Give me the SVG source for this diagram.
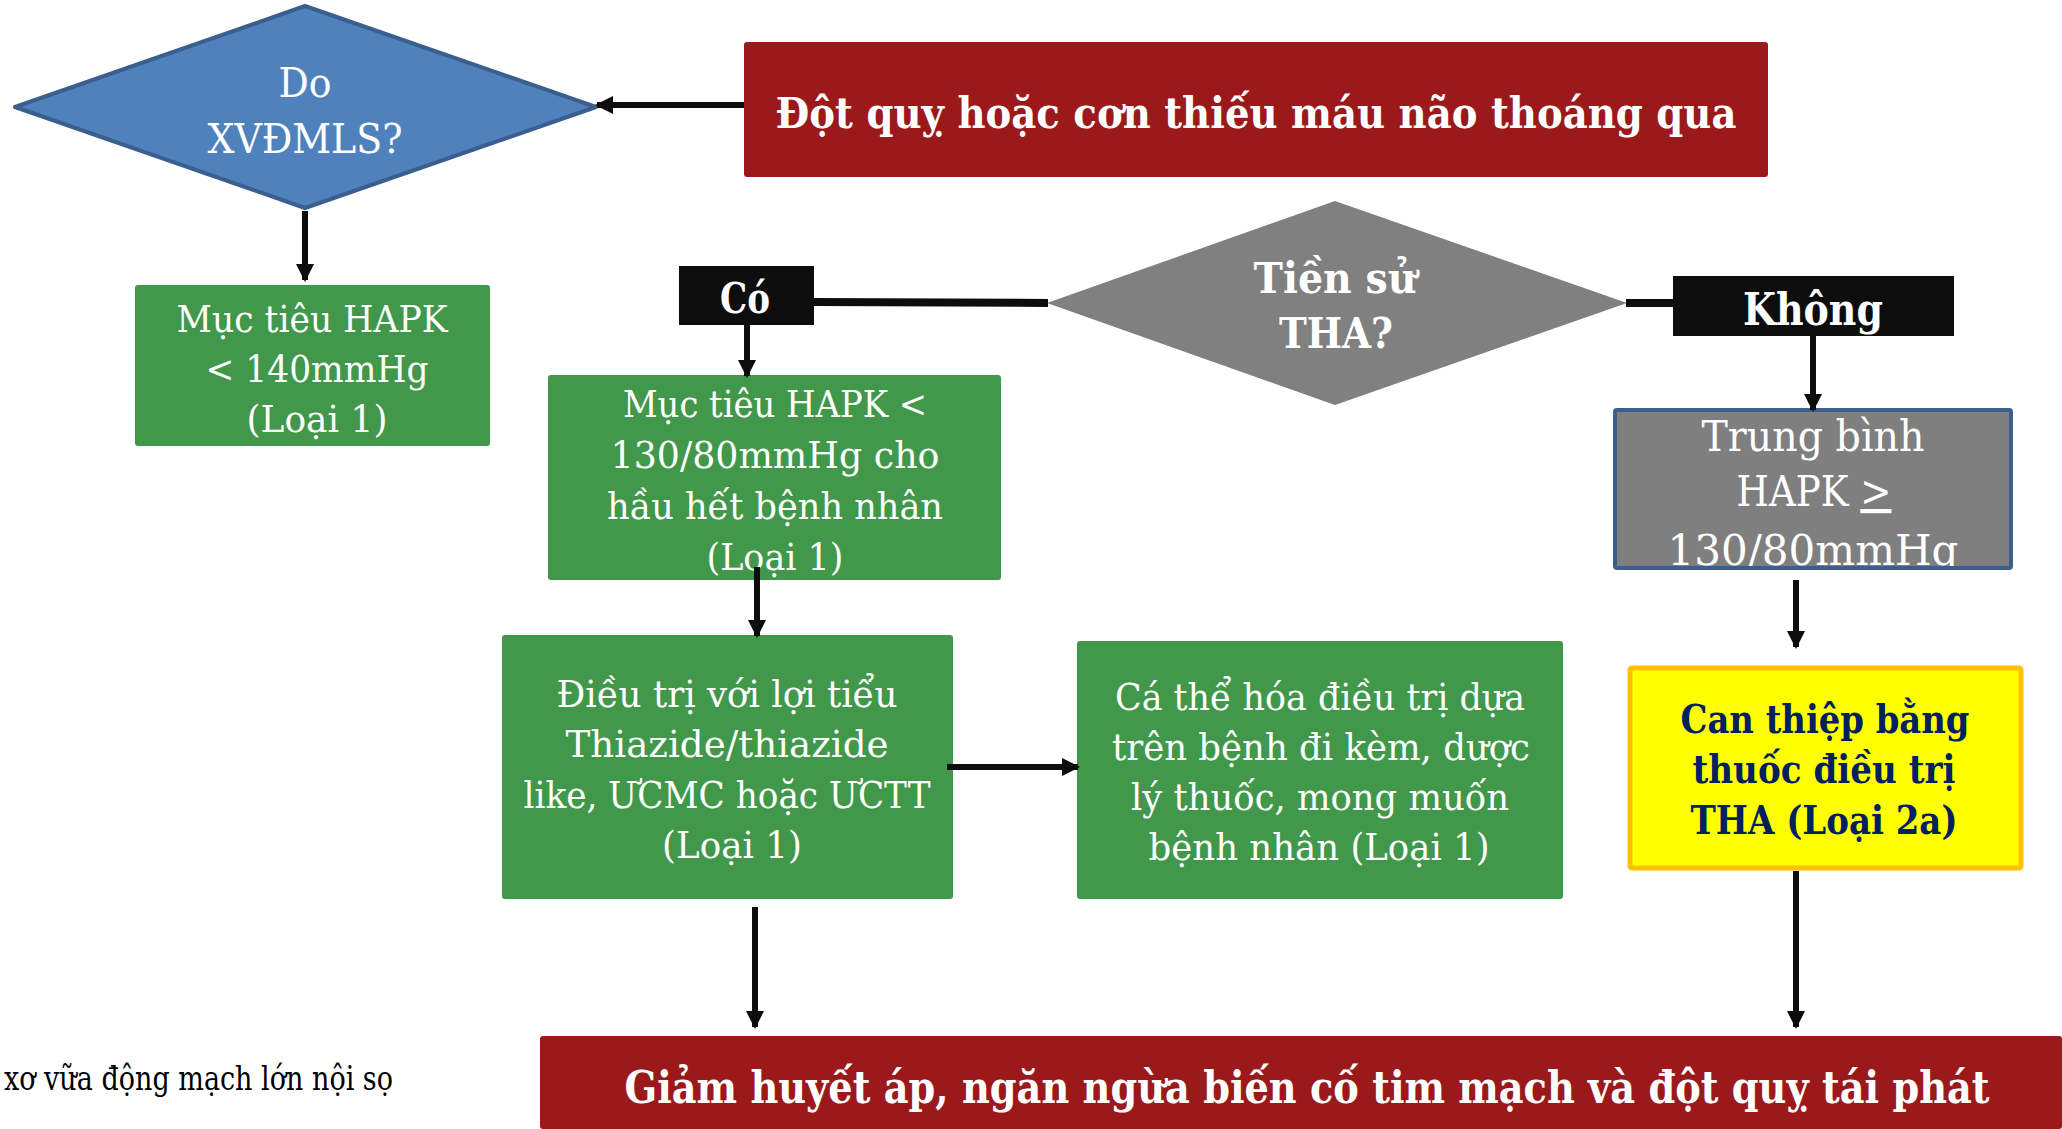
<svg xmlns="http://www.w3.org/2000/svg" width="2062" height="1129" viewBox="0 0 2062 1129">
<style>
  text { font-family: "DejaVu Serif", "Liberation Serif", serif; text-anchor: middle; }
  .w { fill: #ffffff; }
  .b { font-weight: bold; }
  .g37 { font-size: 37px; }
  .green { fill: #41984A; }
  .red { fill: #9B191A; }
  .blk { fill: #0D0D0D; }
  .ln { stroke: #0D0D0D; stroke-width: 6; fill: none; }
  .thick { stroke: #0D0D0D; stroke-width: 8; fill: none; }
  .arr { marker-end: url(#ah); }
</style>
<defs>
  <marker id="ah" markerUnits="userSpaceOnUse" markerWidth="18" markerHeight="18" refX="16" refY="9" orient="auto">
    <path d="M0,0 L18,9 L0,18 z" fill="#0D0D0D"/>
  </marker>
</defs>
<rect width="2062" height="1129" fill="#ffffff"/>

<g id="n-xvdmls">
  <polygon points="15,107 305,6 596,107 305,208" fill="#4F81BD" stroke="#3A5F8E" stroke-width="4" stroke-linejoin="round"/>
  <text class="w" x="305" y="97" font-size="41" textLength="53" lengthAdjust="spacingAndGlyphs">Do</text>
  <text class="w" x="305" y="153" font-size="41" textLength="195" lengthAdjust="spacingAndGlyphs">XVĐMLS?</text>
</g>

<g id="n-dotquy">
  <rect class="red" x="744" y="42" width="1024" height="135" rx="3"/>
  <text class="w b" x="1256" y="128" font-size="42" textLength="961" lengthAdjust="spacingAndGlyphs">Đột quỵ hoặc cơn thiếu máu não thoáng qua</text>
</g>

<g id="n-muctieu140">
  <rect class="green" x="135" y="285" width="355" height="161" rx="3"/>
  <text class="w g37" x="312" y="332" textLength="271" lengthAdjust="spacingAndGlyphs">Mục tiêu HAPK</text>
  <text class="w g37" x="317" y="382" textLength="223" lengthAdjust="spacingAndGlyphs">&lt; 140mmHg</text>
  <text class="w g37" x="317" y="432" textLength="141" lengthAdjust="spacingAndGlyphs">(Loại 1)</text>
</g>

<g id="n-co">
  <rect class="blk" x="679" y="266" width="135" height="59"/>
  <text class="w b" x="745" y="313" font-size="42" textLength="50" lengthAdjust="spacingAndGlyphs">Có</text>
</g>

<g id="n-tiensu">
  <polygon points="1047,303 1335,201 1627,303 1335,405" fill="#808080"/>
  <text class="w b" x="1335" y="293" font-size="42" textLength="163" lengthAdjust="spacingAndGlyphs">Tiền sử</text>
  <text class="w b" x="1336" y="348" font-size="42" textLength="114" lengthAdjust="spacingAndGlyphs">THA?</text>
</g>

<g id="n-khong">
  <rect class="blk" x="1673" y="276" width="281" height="60"/>
  <text class="w b" x="1813" y="325" font-size="44" textLength="140" lengthAdjust="spacingAndGlyphs">Không</text>
</g>

<g id="n-muctieu130">
  <rect class="green" x="548" y="375" width="453" height="205" rx="3"/>
  <text class="w g37" x="775" y="417" textLength="304" lengthAdjust="spacingAndGlyphs">Mục tiêu HAPK &lt;</text>
  <text class="w g37" x="775" y="468" textLength="329" lengthAdjust="spacingAndGlyphs">130/80mmHg cho</text>
  <text class="w g37" x="775" y="519" textLength="336" lengthAdjust="spacingAndGlyphs">hầu hết bệnh nhân</text>
  <text class="w g37" x="775" y="570" textLength="137" lengthAdjust="spacingAndGlyphs">(Loại 1)</text>
</g>

<g id="n-trungbinh">
  <rect x="1615" y="410" width="396" height="158" rx="2" fill="#7F7F7F"/>
  <text class="w" x="1813" y="451" font-size="42" textLength="223" lengthAdjust="spacingAndGlyphs">Trung bình</text>
  <text class="w" x="1814" y="506" font-size="42" textLength="155" lengthAdjust="spacingAndGlyphs">HAPK <tspan text-decoration="underline">&gt;</tspan></text>
  <text class="w" x="1813" y="565" font-size="42" textLength="291" lengthAdjust="spacingAndGlyphs">130/80mmHg</text>
  <rect x="1615" y="410" width="396" height="158" rx="2" fill="none" stroke="#3A5F8E" stroke-width="4"/>
</g>

<g id="n-dieutri">
  <rect class="green" x="502" y="635" width="451" height="264" rx="3"/>
  <text class="w g37" x="727" y="707" textLength="341" lengthAdjust="spacingAndGlyphs">Điều trị với lợi tiểu</text>
  <text class="w g37" x="727" y="757" textLength="323" lengthAdjust="spacingAndGlyphs">Thiazide/thiazide</text>
  <text class="w g37" x="727" y="808" textLength="407" lengthAdjust="spacingAndGlyphs">like, ƯCMC hoặc ƯCTT</text>
  <text class="w g37" x="732" y="858" textLength="140" lengthAdjust="spacingAndGlyphs">(Loại 1)</text>
</g>

<g id="n-cathehoa">
  <rect class="green" x="1077" y="641" width="486" height="258" rx="3"/>
  <text class="w g37" x="1320" y="710" textLength="410" lengthAdjust="spacingAndGlyphs">Cá thể hóa điều trị dựa</text>
  <text class="w g37" x="1321" y="760" textLength="418" lengthAdjust="spacingAndGlyphs">trên bệnh đi kèm, dược</text>
  <text class="w g37" x="1320" y="810" textLength="378" lengthAdjust="spacingAndGlyphs">lý thuốc, mong muốn</text>
  <text class="w g37" x="1319" y="860" textLength="341" lengthAdjust="spacingAndGlyphs">bệnh nhân (Loại 1)</text>
</g>

<g id="n-canthiep">
  <rect x="1630" y="668" width="391" height="200" rx="2" fill="#FFFF00" stroke="#FFC000" stroke-width="5"/>
  <text class="b" fill="#002060" x="1825" y="733" font-size="40" textLength="289" lengthAdjust="spacingAndGlyphs">Can thiệp bằng</text>
  <text class="b" fill="#002060" x="1824" y="783" font-size="40" textLength="263" lengthAdjust="spacingAndGlyphs">thuốc điều trị</text>
  <text class="b" fill="#002060" x="1824" y="834" font-size="40" textLength="267" lengthAdjust="spacingAndGlyphs">THA (Loại 2a)</text>
</g>

<g id="n-giam">
  <rect class="red" x="540" y="1036" width="1522" height="93" rx="3"/>
  <text class="w b" x="1307" y="1103" font-size="45" textLength="1365" lengthAdjust="spacingAndGlyphs">Giảm huyết áp, ngăn ngừa biến cố tim mạch và đột quỵ tái phát</text>
</g>

<g id="n-chuthich">
  <text x="4" y="1090" font-size="34" fill="#000000" style="text-anchor:start" textLength="389" lengthAdjust="spacingAndGlyphs">xơ vữa động mạch lớn nội sọ</text>
</g>

<g id="connectors">
  <line class="ln arr" x1="744" y1="105" x2="597" y2="105"/>
  <line class="ln arr" x1="305" y1="211" x2="305" y2="280"/>
  <line class="thick" x1="814" y1="302" x2="1048" y2="303"/>
  <line class="thick" x1="1626" y1="303" x2="1673" y2="303"/>
  <line class="ln arr" x1="747" y1="325" x2="747" y2="376"/>
  <line class="ln arr" x1="757" y1="567" x2="757" y2="636"/>
  <line class="ln arr" x1="947" y1="767" x2="1078" y2="767"/>
  <line class="ln arr" x1="755" y1="907" x2="755" y2="1027"/>
  <line class="ln arr" x1="1813" y1="336" x2="1813" y2="410"/>
  <line class="ln arr" x1="1796" y1="580" x2="1796" y2="647"/>
  <line class="ln arr" x1="1796" y1="871" x2="1796" y2="1027"/>
</g>
</svg>
